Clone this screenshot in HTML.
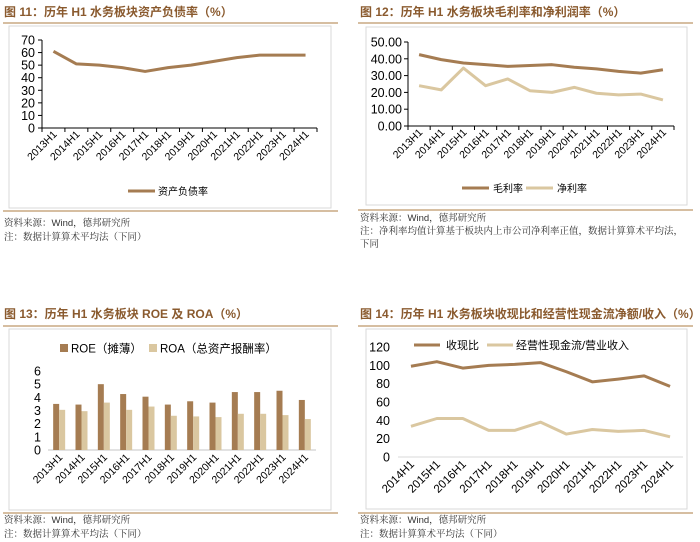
<!DOCTYPE html>
<html><head><meta charset="utf-8">
<style>
html,body{margin:0;padding:0;background:#fff;}
svg{display:block;font-family:"Liberation Sans","Noto Sans CJK SC",sans-serif;}
.t{font-size:12px;font-weight:bold;fill:#8a5a2e;}
.s{font-size:9.5px;fill:#333;font-family:"Liberation Sans","Noto Serif CJK SC",serif;}
</style></head>
<body>
<svg id="c" width="700" height="542" xmlns="http://www.w3.org/2000/svg">
<text class="t" x="4" y="16">图 11：历年 H1 水务板块资产负债率（%）</text>
<line x1="3" y1="23" x2="338" y2="23" stroke="#c9a882" stroke-width="1.5"/>
<rect x="9" y="26" width="322" height="182" fill="none" stroke="#d9d9d9"/>
<line x1="3" y1="211" x2="338" y2="211" stroke="#c9a882" stroke-width="1.5"/>
<text class="s" x="4" y="226">资料来源：Wind，德邦研究所</text>
<text class="s" x="4" y="240">注：数据计算算术平均法（下同）</text>
<g id="p1"></g>
<text class="t" x="360" y="16">图 12：历年 H1 水务板块毛利率和净利润率（%）</text>
<line x1="358" y1="23" x2="693" y2="23" stroke="#c9a882" stroke-width="1.5"/>
<rect x="366" y="27" width="321" height="178" fill="none" stroke="#d9d9d9"/>
<line x1="358" y1="210" x2="693" y2="210" stroke="#c9a882" stroke-width="1.5"/>
<text class="s" x="360" y="221">资料来源：Wind，德邦研究所</text>
<text class="s" x="360" y="234">注：净利率均值计算基于板块内上市公司净利率正值，数据计算算术平均法，</text>
<text class="s" x="360" y="247">下同</text>
<g id="p2"></g>
<text class="t" x="4" y="318">图 13：历年 H1 水务板块 ROE 及 ROA（%）</text>
<line x1="3" y1="326" x2="338" y2="326" stroke="#c9a882" stroke-width="1.5"/>
<rect x="9" y="329" width="322" height="181" fill="none" stroke="#d9d9d9"/>
<line x1="3" y1="513" x2="338" y2="513" stroke="#c9a882" stroke-width="1.5"/>
<text class="s" x="4" y="523">资料来源：Wind，德邦研究所</text>
<text class="s" x="4" y="537">注：数据计算算术平均法（下同）</text>
<g id="p3"></g>
<text class="t" x="360" y="318">图 14：历年 H1 水务板块收现比和经营性现金流净额/收入（%）</text>
<line x1="358" y1="326" x2="693" y2="326" stroke="#c9a882" stroke-width="1.5"/>
<rect x="366" y="329" width="321" height="180" fill="none" stroke="#d9d9d9"/>
<line x1="358" y1="513" x2="693" y2="513" stroke="#c9a882" stroke-width="1.5"/>
<text class="s" x="360" y="523">资料来源：Wind，德邦研究所</text>
<text class="s" x="360" y="537">注：数据计算算术平均法（下同）</text>
<g id="p4"></g>
</svg>
<script>
const years12 = ["2013H1","2014H1","2015H1","2016H1","2017H1","2018H1","2019H1","2020H1","2021H1","2022H1","2023H1","2024H1"];
const years11 = ["2014H1","2015H1","2016H1","2017H1","2018H1","2019H1","2020H1","2021H1","2022H1","2023H1","2024H1"];
const debtRatio = [61,51,50,48,45,48,50,53,56,58,58,58];
const debtTicks = [0,10,20,30,40,50,60,70];
const grossMargin = [42.5,39.5,37.5,36.5,35.5,36,36.5,35,34,32.5,31.5,33.5];
const netMargin = [24,21.5,34.5,24,28,21,20,23,19.5,18.5,19,15.5];
const marginTicks = ["0.00","10.00","20.00","30.00","40.00","50.00"];
const roe = [3.5,3.45,5.0,4.25,4.05,3.45,3.7,3.6,4.4,4.4,4.5,3.8];
const roa = [3.05,2.95,3.6,3.05,3.3,2.6,2.55,2.5,2.75,2.75,2.65,2.35];
const roeTicks = [0,1,2,3,4,5,6];
const cashRatio = [99,104,97,100,101,103,93,82,85,88.5,77];
const ocfRatio = [33.5,42,42,29,29,38,25,30,28,29,22];
const cashTicks = [0,20,40,60,80,100,120];

const DARK="#a57c52", LIGHT="#dac7a0";
const NS="http://www.w3.org/2000/svg";
function el(g,tag,attrs,txt){const e=document.createElementNS(NS,tag);for(const k in attrs)e.setAttribute(k,attrs[k]);if(txt!==undefined)e.textContent=txt;g.appendChild(e);return e;}

function panel(id,o){
  const g=document.getElementById(id);
  const n=o.cats.length, bw=(o.x1-o.x0)/n;
  const xs=i=>o.x0+bw*(i+0.5);
  const ys=v=>o.y0-(v-o.ymin)/(o.ymax-o.ymin)*(o.y0-o.ytop);
  o.ticks.forEach(t=>{
    const v=parseFloat(t);
    const tl=el(g,"text",{x:o.labX,y:ys(v)+4.5,"text-anchor":"end","font-size":o.yfs},String(t));
    
    
    if(o.yAxisLine) el(g,"line",{x1:o.x0-4,x2:o.x0,y1:ys(v),y2:ys(v),stroke:"#000"});
  });
  if(o.yAxisLine){const l=el(g,"line",{x1:o.x0,x2:o.x0,y1:o.ytop,y2:o.y0,stroke:"#000"});}
  const xa=el(g,"line",{x1:o.x0,x2:o.x1,y1:o.y0,y2:o.y0,stroke:o.axisColor||"#000","stroke-width":o.axisW||1});
  
  
  if(o.xTicks) for(let i=0;i<=n;i++) el(g,"line",{x1:o.x0+bw*i,x2:o.x0+bw*i,y1:o.y0,y2:o.y0+4,stroke:"#000"});
  o.cats.forEach((c,i)=>{
    const x=xs(i)+4, y=o.y0+o.labDy;
    const t=el(g,"text",{x:x,y:y,"text-anchor":"end","font-size":o.xfs,transform:`rotate(-45 ${x} ${y})`},c);
    
    
  });
  if(o.bars){
    o.bars.forEach((b,si)=>{
      b.data.forEach((v,i)=>{
        const x=xs(i)-6+si*6;
        const r=el(g,"rect",{x:x,y:ys(v),width:6,height:o.y0-ys(v),fill:b.color});
        
        
      });
    });
  }
  if(o.lines){
    o.lines.forEach(s=>{
      const p=el(g,"polyline",{points:s.data.map((v,i)=>xs(i)+","+ys(v)).join(" "),fill:"none",stroke:s.color,"stroke-width":3,"stroke-linejoin":"round"});
      
      
    });
  }
}

panel("p1",{cats:years12,x0:42,x1:317,y0:128,ytop:40,ymin:0,ymax:70,ticks:debtTicks,labX:35,yfs:12.5,xfs:10.5,labDy:7,yAxisLine:true,xTicks:true,
  lines:[{name:"debt-ratio",data:debtRatio,color:DARK}]});
panel("p2",{cats:years12,x0:408,x1:674,y0:126,ytop:42,ymin:0,ymax:50,ticks:marginTicks,labX:402,yfs:12.5,xfs:10.5,labDy:7,yAxisLine:true,xTicks:true,
  lines:[{name:"gross-margin",data:grossMargin,color:DARK},{name:"net-margin",data:netMargin,color:LIGHT}]});
panel("p3",{cats:years12,x0:48,x1:316,y0:450,ytop:371,ymin:0,ymax:6,ticks:roeTicks,labX:41,yfs:12.5,xfs:10.5,labDy:8,yAxisLine:false,xTicks:false,axisColor:"#d9d9d9",axisW:1.5,
  bars:[{name:"roe",data:roe,color:DARK},{name:"roa",data:roa,color:LIGHT}]});
panel("p4",{cats:years11,x0:398,x1:683,y0:457,ytop:347,ymin:0,ymax:120,ticks:cashTicks,labX:390,yfs:12.5,xfs:11.5,labDy:8,yAxisLine:false,xTicks:false,axisColor:"#d9d9d9",axisW:1,
  lines:[{name:"cash-ratio",data:cashRatio,color:DARK},{name:"ocf-revenue",data:ocfRatio,color:LIGHT}]});

const svg=document.getElementById("c");
function legLine(x1,x2,y,color,tx,label,name,fs){
  const g=el(svg,"g",{});
  
  
  el(g,"line",{x1:x1,x2:x2,y1:y,y2:y,stroke:color,"stroke-width":3});
  el(g,"text",{x:tx,y:y+4,"font-size":fs||10},label);
}
legLine(128,155,191,DARK,158,"资产负债率","legend-debt-ratio");
legLine(462,489,188,DARK,493,"毛利率","legend-gross-margin");
legLine(526,553,188,LIGHT,557,"净利率","legend-net-margin");
legLine(414,440,345,DARK,446,"收现比","legend-cash-ratio",11);
legLine(487,513,345,LIGHT,516,"经营性现金流/营业收入","legend-ocf-revenue",11);
function legBox(x,y,color,label,name){
  const g=el(svg,"g",{});
  
  
  el(g,"rect",{x:x,y:y-4,width:8,height:8,fill:color});
  el(g,"text",{x:x+11,y:y+4.5,"font-size":11.5},label);
}
legBox(60,348,DARK,"ROE（摊薄）","legend-roe");
legBox(149,348,LIGHT,"ROA（总资产报酬率）","legend-roa");
</script>
</body></html>
